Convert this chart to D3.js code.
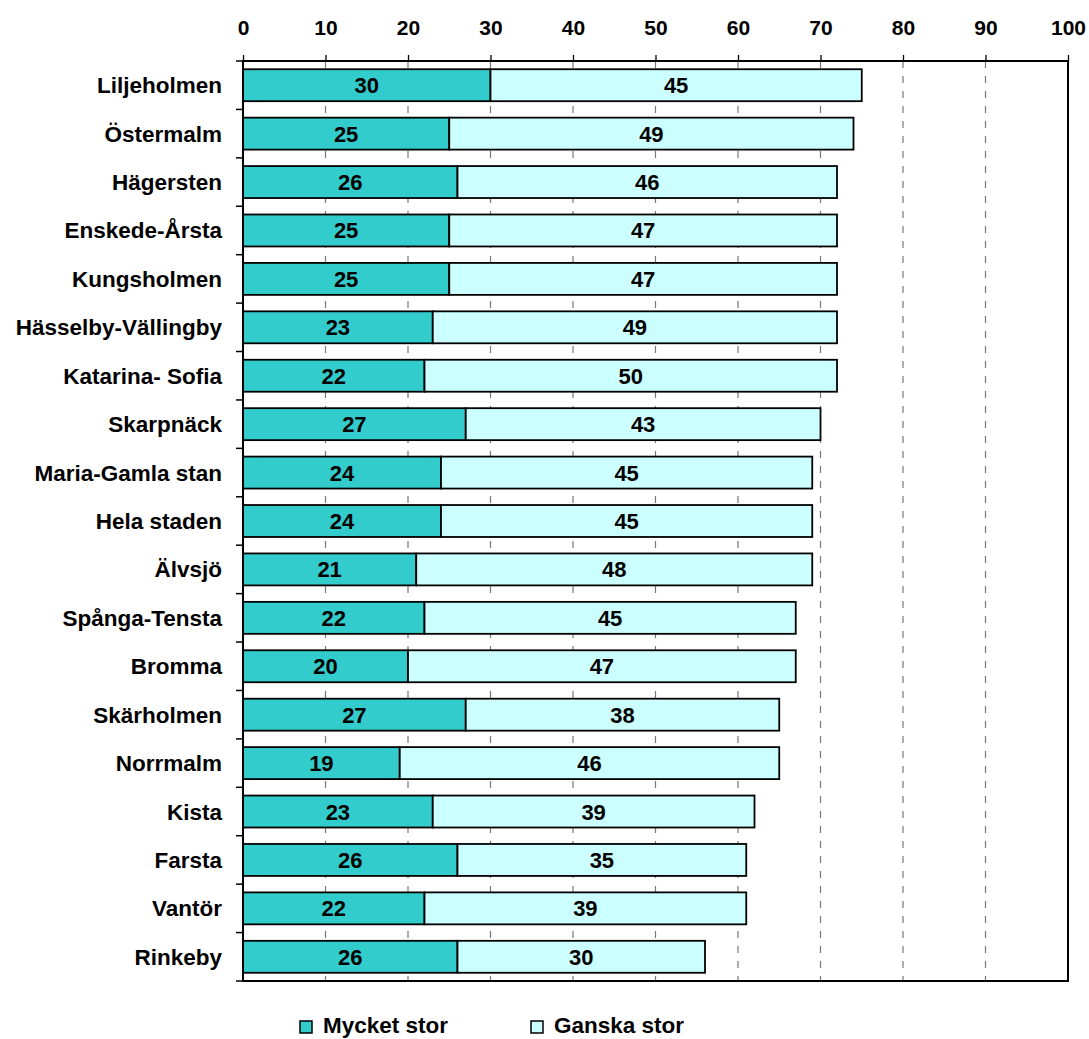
<!DOCTYPE html>
<html><head><meta charset="utf-8">
<script src="https://cdn.jsdelivr.net/npm/d3@7"></script>
<style>body{margin:0;background:#fff}svg{display:block}</style>
</head><body>
<script>
const categories = ["Liljeholmen","Östermalm","Hägersten","Enskede-Årsta","Kungsholmen","Hässelby-Vällingby","Katarina- Sofia","Skarpnäck","Maria-Gamla stan","Hela staden","Älvsjö","Spånga-Tensta","Bromma","Skärholmen","Norrmalm","Kista","Farsta","Vantör","Rinkeby"];
const mycketStor = [30,25,26,25,25,23,22,27,24,24,21,22,20,27,19,23,26,22,26];
const ganskaStor = [45,49,46,47,47,49,50,43,45,45,48,45,47,38,46,39,35,39,30];
const seriesNames = ["Mycket stor","Ganska stor"];
const seriesColors = ["#33CCCC","#CCFFFF"];
const xTicks = [0,10,20,30,40,50,60,70,80,90,100];

const W=1089,H=1039;
const L=243,R=1068,T=61,B=981;
const font='"Liberation Sans", Arial, sans-serif';
const svg=d3.select("body").append("svg").attr("width",W).attr("height",H).style("font-family",font);

const x=d3.scaleLinear().domain([0,100]).range([L,R]);
const y=d3.scaleBand().domain(categories).range([T,B]).paddingInner(0.34).paddingOuter(0.17);

// gridlines
svg.append("g").selectAll("line").data(xTicks.filter(t=>t>0&&t<100)).join("line")
  .attr("x1",d=>x(d)).attr("x2",d=>x(d)).attr("y1",T).attr("y2",B)
  .attr("stroke","#777").attr("stroke-width",1.2).attr("stroke-dasharray","7,8");

const data=categories.map((c,i)=>({c,a:mycketStor[i],b:ganskaStor[i]}));
const g=svg.append("g");
data.forEach(d=>{
  const segs=[{x0:0,x1:d.a,v:d.a,col:seriesColors[0]},{x0:d.a,x1:d.a+d.b,v:d.b,col:seriesColors[1]}];
  segs.forEach(s=>{
    g.append("rect").attr("x",x(s.x0)).attr("y",y(d.c)).attr("width",x(s.x1)-x(s.x0)).attr("height",y.bandwidth())
     .attr("fill",s.col).attr("stroke","#000").attr("stroke-width",1.8);
    g.append("text").attr("x",(x(s.x0)+x(s.x1))/2).attr("y",y(d.c)+y.bandwidth()/2+8)
     .attr("text-anchor","middle").attr("font-size",22).attr("font-weight","bold").text(s.v);
  });
});

// frame
svg.append("rect").attr("x",L).attr("y",T).attr("width",R-L).attr("height",B-T).attr("fill","none").attr("stroke","#000").attr("stroke-width",2);

// top axis
const xa=svg.append("g").attr("transform",`translate(0,${T})`)
  .call(d3.axisTop(x).tickValues(xTicks).tickSize(6).tickSizeOuter(0).tickPadding(20));
xa.select(".domain").remove();
xa.selectAll("line").attr("stroke","#000").attr("stroke-width",1.3);
xa.selectAll("text").attr("font-size",21).attr("font-weight","bold").attr("font-family",font).attr("fill","#000");

// left axis ticks at band boundaries
const bounds=categories.map(c=>y(c)-y.step()*y.paddingInner()/2).concat([B]);
svg.append("g").selectAll("line").data(bounds).join("line")
  .attr("x1",L-7).attr("x2",L).attr("y1",d=>d).attr("y2",d=>d).attr("stroke","#000").attr("stroke-width",1.5);
svg.append("g").selectAll("text").data(categories).join("text")
  .attr("x",L-21).attr("y",d=>y(d)+y.bandwidth()/2+8).attr("text-anchor","end")
  .attr("font-size",22.5).attr("font-weight","bold").text(d=>d);

// legend
const leg=[{n:seriesNames[0],c:seriesColors[0],x:300},{n:seriesNames[1],c:seriesColors[1],x:531}];
const lg=svg.append("g").selectAll("g").data(leg).join("g");
lg.append("rect").attr("x",d=>d.x).attr("y",1021).attr("width",12).attr("height",12).attr("fill",d=>d.c).attr("stroke","#000").attr("stroke-width",1.5);
lg.append("text").attr("x",d=>d.x+23).attr("y",1033).attr("font-size",22.5).attr("font-weight","bold").text(d=>d.n);
</script>
</body></html>
